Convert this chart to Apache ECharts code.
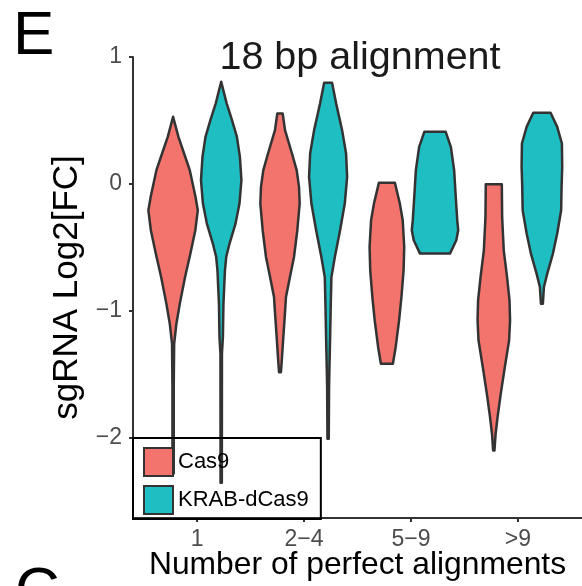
<!DOCTYPE html>
<html>
<head>
<meta charset="utf-8">
<script src="https://cdn.jsdelivr.net/npm/echarts@6/dist/echarts.min.js"></script>
<style>
  html, body { margin: 0; padding: 0; background: #fff; }
  #chart { width: 582px; height: 586px; }
</style>
</head>
<body>
<div id="chart"></div>
<script>
const categories = ['1', '2−4', '5−9', '>9'];
const groups = ['Cas9', 'KRAB-dCas9'];
const yTicks = [-2, -1, 0, 1];

// violin outlines: log2FC level and half-width (in category units) at that level
const cas9Levels = [
  [0.529, 0.371, 0.240, 0.109, -0.102, -0.207, -0.364, -0.548, -0.733, -0.942, -1.100, -1.258, -1.600, -2.280],
  [0.556, 0.424, 0.240, 0.109, -0.023, -0.154, -0.364, -0.575, -0.733, -0.890, -1.048, -1.206, -1.364, -1.482],
  [0.009, -0.154, -0.285, -0.496, -0.680, -0.890, -1.074, -1.285, -1.416],
  [-0.002, -0.259, -0.522, -0.733, -0.916, -1.074, -1.232, -1.442, -1.652, -1.837, -1.968, -2.099]
];
const cas9Widths = [
  [0.000, 0.050, 0.103, 0.156, 0.210, 0.231, 0.208, 0.162, 0.112, 0.063, 0.031, 0.010, 0.006, 0.006],
  [0.025, 0.047, 0.112, 0.156, 0.178, 0.184, 0.162, 0.131, 0.093, 0.056, 0.044, 0.031, 0.019, 0.009],
  [0.075, 0.121, 0.148, 0.162, 0.156, 0.136, 0.114, 0.082, 0.056],
  [0.075, 0.078, 0.093, 0.124, 0.147, 0.152, 0.143, 0.103, 0.065, 0.035, 0.017, 0.006]
];
const krabLevels = [
  [0.805, 0.635, 0.503, 0.371, 0.214, 0.030, -0.154, -0.312, -0.469, -0.575, -0.680, -0.942, -1.206, -1.337, -2.352],
  [0.797, 0.635, 0.424, 0.240, 0.056, -0.154, -0.364, -0.575, -0.733, -0.942, -1.206, -1.468, -1.600, -2.005],
  [0.411, 0.293, 0.109, -0.102, -0.285, -0.364, -0.443, -0.548],
  [0.561, 0.450, 0.319, 0.135, -0.023, -0.207, -0.390, -0.548, -0.706, -0.811, -0.942]
];
const krabWidths = [
  [0.000, 0.051, 0.101, 0.147, 0.175, 0.189, 0.171, 0.134, 0.078, 0.047, 0.035, 0.021, 0.016, 0.007, 0.006],
  [0.037, 0.075, 0.131, 0.168, 0.178, 0.156, 0.112, 0.063, 0.031, 0.025, 0.019, 0.012, 0.009, 0.006],
  [0.100, 0.148, 0.179, 0.194, 0.208, 0.217, 0.199, 0.140],
  [0.081, 0.143, 0.187, 0.190, 0.184, 0.180, 0.143, 0.103, 0.050, 0.019, 0.009]
];

const colors = ['#F2746C', '#1FBEC2'];
const FONT = '"Liberation Sans", Arial, sans-serif';

function violin(levels, widths, offset, color) {
  return function (params, api) {
    const i = params.dataIndex;
    const cx = i + 1 + offset;
    const ys = levels[i];
    const ws = widths[i];
    const right = ys.map((y, k) => api.coord([cx + ws[k], y]));
    const left = ys.map((y, k) => api.coord([cx - ws[k], y])).reverse();
    return {
      type: 'polygon',
      shape: { points: right.concat(left) },
      style: { fill: color, stroke: '#333333', lineWidth: 2.5, lineJoin: 'round' }
    };
  };
}

const chart = echarts.init(document.getElementById('chart'));
const slots = categories.map((c, i) => [i + 1, 0]);

chart.setOption({
  animation: false,
  title: {
    text: '18 bp alignment',
    left: 355,
    top: 33,
    textAlign: 'center',
    textStyle: { fontFamily: FONT, fontSize: 39.5, fontWeight: 'normal', color: '#1a1a1a' }
  },
  graphic: [
    { type: 'text', x: 13, y: 6, style: { text: 'E', font: '62px ' + FONT, fill: '#000' } },
    { type: 'text', x: 15, y: 562, style: { text: 'C', font: '62px ' + FONT, fill: '#000' } }
  ],
  legend: {
    orient: 'vertical',
    left: 133,
    top: 438,
    padding: [9, 12, 4, 10],
    itemGap: 8,
    itemWidth: 29,
    itemHeight: 28,
    icon: 'rect',
    borderColor: '#000',
    borderWidth: 2,
    textStyle: { fontFamily: FONT, fontSize: 22, color: '#000' },
    data: groups.map((g, i) => ({
      name: g,
      itemStyle: { color: colors[i], borderColor: '#333333', borderWidth: 2 }
    }))
  },
  grid: { left: 133, right: 0, top: 57, bottom: 68, containLabel: false, outerBoundsMode: 'none' },
  xAxis: {
    type: 'value',
    min: 0.4,
    max: 4.6,
    name: 'Number of perfect alignments',
    nameLocation: 'middle',
    nameGap: 31,
    nameMoveOverlap: false,
    nameTextStyle: { fontFamily: FONT, fontSize: 31.8, color: '#000' },
    axisLine: { onZero: false, lineStyle: { color: '#333', width: 2 } },
    axisTick: { customValues: [1, 2, 3, 4], length: 4, lineStyle: { color: '#333', width: 2 } },
    axisLabel: {
      customValues: [1, 2, 3, 4],
      formatter: (v) => categories[Math.round(v) - 1],
      margin: 10,
      fontFamily: FONT,
      fontSize: 23,
      color: '#4D4D4D'
    },
    splitLine: { show: false }
  },
  yAxis: {
    type: 'value',
    min: -2.63,
    max: 1.0,
    name: 'sgRNA Log2[FC]',
    nameLocation: 'middle',
    nameRotate: 90,
    nameGap: 41,
    nameTextStyle: { fontFamily: FONT, fontSize: 35, color: '#000' },
    axisLine: { show: true, onZero: false, lineStyle: { color: '#333', width: 2 } },
    axisTick: { show: true, customValues: yTicks, length: 4, lineStyle: { color: '#333', width: 2 } },
    axisLabel: {
      customValues: yTicks,
      formatter: (v) => (v < 0 ? '−' + Math.abs(v) : String(v)),
      margin: 11,
      fontFamily: FONT,
      fontSize: 23,
      color: '#4D4D4D'
    },
    splitLine: { show: false }
  },
  series: [
    {
      name: groups[0],
      type: 'custom',
      itemStyle: { color: colors[0] },
      encode: { x: 0, y: 1 },
      data: slots,
      renderItem: violin(cas9Levels, cas9Widths, -0.225, colors[0])
    },
    {
      name: groups[1],
      type: 'custom',
      itemStyle: { color: colors[1] },
      encode: { x: 0, y: 1 },
      data: slots,
      renderItem: violin(krabLevels, krabWidths, 0.225, colors[1])
    }
  ]
});
</script>
</body>
</html>
